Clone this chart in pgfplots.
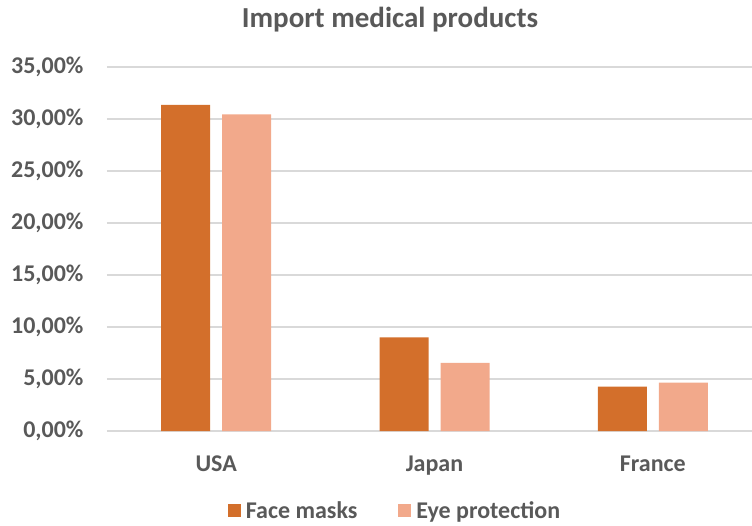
\documentclass[border=0pt]{standalone}
\usepackage{pgfplots}
\pgfplotsset{compat=1.18}
\usepackage{fontspec}
\setmainfont{Carlito}
\definecolor{txt}{HTML}{595959}
\definecolor{grid}{HTML}{D9D9D9}
\definecolor{face}{HTML}{D36F2B}
\definecolor{eye}{HTML}{F2A98B}
\begin{document}
\begin{tikzpicture}[x=1pt,y=1pt]
\useasboundingbox (-107,-94) rectangle (645,431);
\begin{axis}[
  at={(0,0)}, anchor=south west,
  scale only axis, width=655pt, height=364pt,
  ybar=12pt, bar width=49pt,
  xmin=-0.5, xmax=2.5, ymin=0, ymax=35,
  xtick=data, xticklabels={USA,Japan,France},
  ytick={0,5,...,35},
  yticklabels={{0,00\%},{5,00\%},{10,00\%},{15,00\%},{20,00\%},{25,00\%},{30,00\%},{35,00\%}},
  xmajorgrids=false, ymajorgrids=true,
  y grid style={grid, line width=1.3pt},
  axis x line*=bottom, axis y line*=left,
  x axis line style={draw=grid, line width=1.3pt},
  y axis line style={draw=none},
  xtick style={draw=none}, ytick style={draw=none},
  major tick length=0pt,
  tick label style={font=\fontsize{24}{27}\selectfont\bfseries, text=txt},
  yticklabel style={anchor=east, xshift=-20pt},
  xticklabel style={yshift=-21pt},
  legend columns=2,
  legend style={at={(0.442,-0.22)}, anchor=center, draw=none, font=\fontsize{24}{27}\selectfont\bfseries, text=txt,
    nodes={inner xsep=5pt},
    /tikz/every even column/.append style={column sep=36pt}},
  legend image code/.code={\fill[#1] (0pt,-6pt) rectangle (13pt,7pt);},
]
\addplot[fill=face, draw=none] coordinates {(0,31.35) (1,9.0) (2,4.26)};
\addplot[fill=eye, draw=none] coordinates {(0,30.45) (1,6.54) (2,4.65)};
\legend{Face masks, Eye protection}
\end{axis}
\node[text=txt, font=\fontsize{29}{33}\selectfont\bfseries] at (283,411) {Import medical products};
\end{tikzpicture}
\end{document}
